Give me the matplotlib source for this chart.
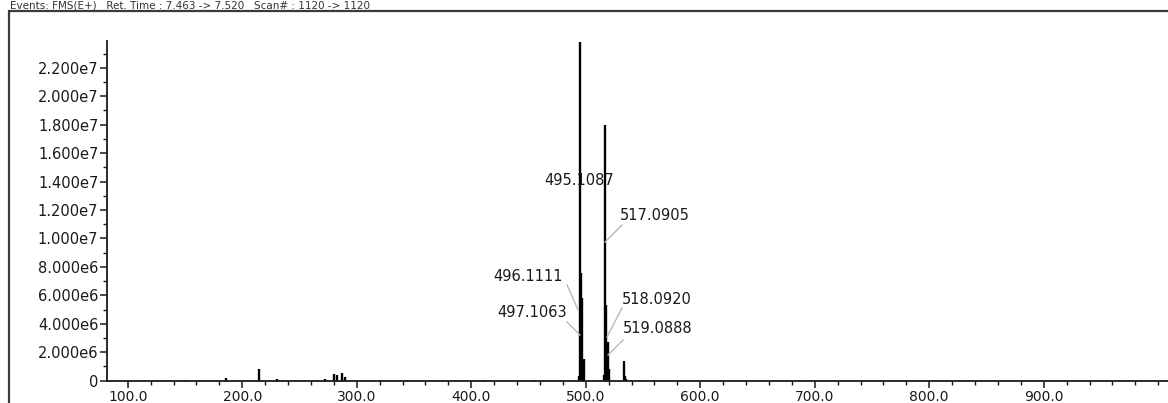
import matplotlib
matplotlib.use("Agg")
import matplotlib.pyplot as plt
from matplotlib.ticker import MultipleLocator, FuncFormatter
from matplotlib.patches import Rectangle

plt.rcParams['font.family'] = ['DejaVu Sans']

# ---- data ----
peak_mz = [495.1087, 496.1111, 497.1063, 498.10, 494.10,
           516.10, 517.0905, 518.0920, 519.0888, 520.09,
           533.07, 534.07, 535.07,
           215.0, 186.0, 280.0, 283.0, 287.0, 290.0, 272.0,
           150.0, 230.0, 320.0, 345.0, 410.0, 455.0, 560.0]
peak_int = [2.38e7, 7.6e6, 5.85e6, 1.5e6, 3.0e5,
            4.0e5, 1.80e7, 5.35e6, 2.7e6, 8.0e5,
            1.36e6, 3.5e5, 1.0e5,
            8.2e5, 2.0e5, 4.5e5, 4.0e5, 5.5e5, 2.5e5, 1.5e5,
            8.0e4, 1.0e5, 8.0e4, 6.0e4, 5.0e4, 6.0e4, 5.0e4]

label_texts = ["495.1087", "517.0905", "496.1111", "497.1063", "518.0920", "519.0888"]
label_mz = [495.1087, 517.0905, 496.1111, 497.1063, 518.0920, 519.0888]

x_ticks = [100, 200, 300, 400, 500, 600, 700, 800, 900]
y_ticks = [0, 2e6, 4e6, 6e6, 8e6, 1e7, 1.2e7, 1.4e7, 1.6e7, 1.8e7, 2e7, 2.2e7]

header = "Events: FMS(E+)   Ret. Time : 7.463 -> 7.520   Scan# : 1120 -> 1120"

# ---- figure ----
W, H = 1168, 403
fig = plt.figure(figsize=(W / 100, H / 100), dpi=100)
ax = fig.add_axes([106.7 / W, (H - 380.7) / H, 1063 / W, 339.9 / H])

ax.vlines(peak_mz, 0, peak_int, color='black', linewidth=1.7)

ax.set_xlim(81.66, 1010)
ax.set_ylim(0, 2.39e7)

for s in ['top', 'right']:
    ax.spines[s].set_visible(False)
for s in ['left', 'bottom']:
    ax.spines[s].set_linewidth(1.3)
    ax.spines[s].set_color('#1a1a1a')

ax.set_xticks(x_ticks)
ax.xaxis.set_major_formatter(FuncFormatter(lambda v, p: f"{v:.1f}"))
ax.xaxis.set_minor_locator(MultipleLocator(20))
ax.set_yticks(y_ticks)


def yfmt(v, p):
    if v == 0:
        return "0"
    s = f"{v:.3e}"
    mant, ex = s.split("e")
    return f"{mant}e{int(ex)}"


ax.yaxis.set_major_formatter(FuncFormatter(yfmt))
ax.yaxis.set_minor_locator(MultipleLocator(1e6))
ax.tick_params(axis='both', which='major', length=5, width=1.1, color='#1a1a1a',
               labelcolor='#1a1a1a')
ax.tick_params(axis='both', which='minor', length=3, width=1.0, color='#1a1a1a')
ax.tick_params(axis='y', which='both', pad=1, labelsize=10.5)
ax.tick_params(axis='x', which='both', pad=1.5, labelsize=10)

# ---- peak labels with leader lines ----
# (text position, leader start, leader end) in data coordinates
layout = {
    "495.1087": dict(text=(494.2, 1.41e7), ha='center', line=None),
    "517.0905": dict(text=(530.0, 1.165e7), ha='left', line=((531.7, 1.095e7), (516.9, 0.975e7))),
    "496.1111": dict(text=(480.3, 0.736e7), ha='right', line=((483.7, 0.673e7), (493.3, 0.497e7))),
    "497.1063": dict(text=(483.7, 0.483e7), ha='right', line=((483.7, 0.413e7), (495.0, 0.321e7))),
    "518.0920": dict(text=(531.7, 0.568e7), ha='left', line=((531.7, 0.511e7), (518.6, 0.307e7))),
    "519.0888": dict(text=(532.6, 0.364e7), ha='left', line=((532.6, 0.286e7), (519.5, 0.181e7))),
}
for t in label_texts:
    L = layout[t]
    ax.text(L['text'][0], L['text'][1], t, ha=L['ha'], va='center', fontsize=10.5,
            color='#1a1a1a', zorder=5)
    if L['line'] is not None:
        (x0, y0), (x1, y1) = L['line']
        ax.plot([x0, x1], [y0, y1], color='#b8b8b8', linewidth=1.0, zorder=4)

# ---- outer frame and header ----
fig.patches.append(Rectangle((8.5 / W, -0.2), 1.2, (H - 10.5) / H + 0.2,
                             transform=fig.transFigure, fill=False,
                             edgecolor='#3a3a3a', linewidth=1.6, clip_on=False))
fig.text(10 / W, 1 - 8.5 / H, header, ha='left', va='baseline', fontsize=7.5,
         color='#333333')

fig.savefig("out.png", dpi=100)
